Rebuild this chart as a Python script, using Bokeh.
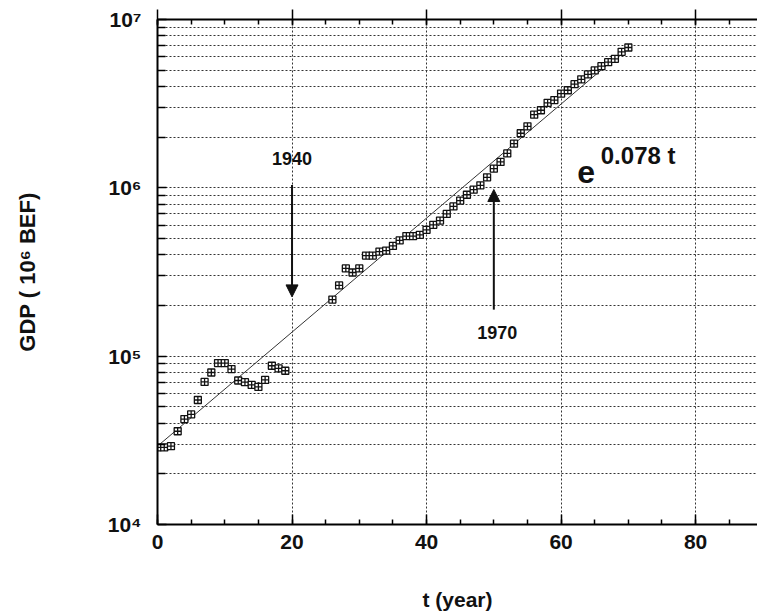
import numpy as np
from bokeh.plotting import figure
from bokeh.models import (LinearAxis, FixedTicker, Range1d, Label, Arrow,
                          NormalHead, ColumnDataSource)
from bokeh.embed import file_html
from bokeh.resources import INLINE

# ---- data (GDP, 10^6 BEF; t = years since 1920) ----
t_years = [0, 1, 2, 3, 4, 5, 6, 7, 8, 9, 10, 11, 12, 13, 14, 15, 16, 17, 18, 19,
           26, 27, 28, 29, 30, 31, 32, 33, 34, 35, 36, 37, 38, 39, 40, 41, 42, 43,
           44, 45, 46, 47, 48, 49, 50, 51, 52, 53, 54, 55, 56, 57, 58, 59, 60, 61,
           62, 63, 64, 65, 66, 67, 68, 69, 70]
gdp = [28700, 28700, 29200, 35800, 42300, 45100, 54900, 70300, 80000, 91000,
       91000, 83800, 71700, 70100, 67500, 65700, 72300, 87700, 84600, 81900,
       217000, 263000, 332000, 314000, 332000, 396000, 396000, 418000, 424000,
       452000, 487000, 517000, 517000, 526000, 563000, 603000, 639000, 700000,
       775000, 840000, 910000, 975000, 1035000, 1155000, 1300000, 1425000,
       1600000, 1830000, 2110000, 2320000, 2720000, 2890000, 3200000, 3320000,
       3630000, 3800000, 4130000, 4410000, 4720000, 4980000, 5280000, 5580000,
       5840000, 6430000, 6820000]

fit_amplitude = 29200.0     # value of the fit at t = 0
fit_rate = 0.078            # e^{0.078 t}
fit_t = [0, 70]

x_major = [0, 20, 40, 60, 80]
x_minor = list(range(0, 90, 5))
y_major = [10000, 100000, 1000000, 10000000]
y_minor = [m * 10 ** e for e in (4, 5, 6) for m in range(2, 10)]
y_tick_labels = {10000: "10⁴", 100000: "10⁵", 1000000: "10⁶", 10000000: "10⁷"}

FONT = "Liberation Sans"
GRID = "#333333"

p = figure(width=757, height=614, x_range=Range1d(0, 89.2),
           y_range=Range1d(1e4, 1e7), y_axis_type="log",
           output_backend="svg", toolbar_location=None,
           min_border_left=157, min_border_right=0, min_border_top=19,
           min_border_bottom=90)
p.outline_line_color = None
p.background_fill_color = "white"
p.border_fill_color = "white"

# ---- grids ----
p.xgrid.ticker = FixedTicker(ticks=x_major)
p.xgrid.grid_line_color = GRID
p.xgrid.grid_line_dash = "2 2"
p.xgrid.grid_line_width = 1
p.ygrid.ticker = FixedTicker(ticks=y_major, minor_ticks=y_minor)
p.ygrid.grid_line_color = GRID
p.ygrid.grid_line_dash = "2 2"
p.ygrid.grid_line_width = 1
p.ygrid.minor_grid_line_color = GRID
p.ygrid.minor_grid_line_dash = "2 2"
p.ygrid.minor_grid_line_width = 1

# ---- bottom axis ----
xa = p.xaxis[0]
xa.ticker = FixedTicker(ticks=x_major, minor_ticks=x_minor)
xa.axis_label = "t (year)"
xa.axis_label_text_font = FONT
xa.axis_label_text_font_style = "bold"
xa.axis_label_text_font_size = "21px"
xa.axis_label_text_color = "#111111"
xa.axis_label_standoff = 36
xa.major_label_text_font = FONT
xa.major_label_text_font_style = "bold"
xa.major_label_text_font_size = "21px"
xa.major_label_text_color = "#111111"
xa.major_label_standoff = 10
xa.axis_line_width = 2
xa.major_tick_in = 10
xa.major_tick_out = 0
xa.minor_tick_in = 5
xa.minor_tick_out = 0
xa.major_tick_line_width = 1.5
xa.minor_tick_line_width = 1.5

# ---- left axis ----
ya = p.yaxis[0]
ya.ticker = FixedTicker(ticks=y_major, minor_ticks=y_minor)
ya.major_label_overrides = y_tick_labels
ya.axis_label = "GDP ( 10⁶ BEF)"
ya.axis_label_text_font = FONT
ya.axis_label_text_font_style = "bold"
ya.axis_label_text_font_size = "22px"
ya.axis_label_text_color = "#111111"
ya.axis_label_standoff = 65
ya.major_label_text_font = FONT
ya.major_label_text_font_style = "bold"
ya.major_label_text_font_size = "21px"
ya.major_label_text_color = "#111111"
ya.major_label_standoff = 16
ya.axis_line_width = 2
ya.major_tick_in = 9
ya.major_tick_out = 0
ya.minor_tick_in = 8
ya.minor_tick_out = 0
ya.major_tick_line_width = 1.5
ya.minor_tick_line_width = 1.5

# ---- top axis (ticks only) ----
top = LinearAxis(ticker=FixedTicker(ticks=x_major, minor_ticks=x_minor))
top.major_label_overrides = {v: "" for v in x_major}
top.major_label_text_font_size = "0px"
top.major_label_standoff = 0
top.axis_line_width = 2
top.major_tick_in = 6
top.major_tick_out = 10
top.minor_tick_in = 5
top.minor_tick_out = 0
top.major_tick_line_width = 1.5
top.minor_tick_line_width = 1.5
p.add_layout(top, "above")

# ---- fit line and data ----
fit_vals = [fit_amplitude * np.exp(fit_rate * t) for t in fit_t]
p.line(fit_t, fit_vals, line_color="#333333", line_width=1)

src = ColumnDataSource(dict(t=t_years, gdp=gdp))
p.scatter("t", "gdp", source=src, marker="square_cross", size=7,
          line_color="#111111", fill_color="white", line_width=1.3)

# ---- annotations ----
def lab(x, y, text, size, align="center"):
    p.add_layout(Label(x=x, y=y, text=text, text_align=align,
                       text_baseline="alphabetic", text_font=FONT,
                       text_font_style="bold", text_font_size=size,
                       text_color="#111111"))

lab(20, 1.50e6, "1940", "18px")
lab(50.5, 1.376e5, "1970", "18px")
lab(62.4, 1.25e6, "e", "32px", align="left")
lab(65.9, 1.56e6, "0.078 t", "24px", align="left")

p.add_layout(Arrow(end=NormalHead(size=12, fill_color="#111111",
                                  line_color="#111111"),
                   x_start=20, y_start=1.04e6, x_end=20, y_end=2.25e5,
                   line_width=2, line_color="#111111"))
p.add_layout(Arrow(end=NormalHead(size=12, fill_color="#111111",
                                  line_color="#111111"),
                   x_start=50, y_start=1.89e5, x_end=50, y_end=9.77e5,
                   line_width=2, line_color="#111111"))

open("out.html", "w").write(file_html(p, INLINE))
